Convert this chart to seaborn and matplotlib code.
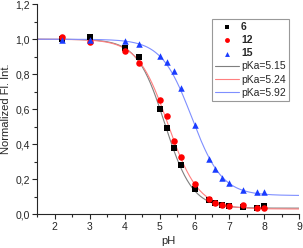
import matplotlib
matplotlib.use('Agg')
import matplotlib.pyplot as plt
from matplotlib.ticker import MultipleLocator, FuncFormatter
import seaborn as sns
import pandas as pd
import numpy as np

ph = [2.2, 3.0, 4.0, 4.4, 5.0, 5.2, 5.4, 5.6, 6.0, 6.4, 6.6, 6.8, 7.0, 7.4, 7.8, 8.0]
int_6 = [1.0, 1.015, 0.949, 0.90, 0.60, 0.49, 0.381, 0.282, 0.143, 0.082,
         0.066, 0.055, 0.046, 0.040, 0.036, 0.049]
int_12 = [1.01, 0.986, 0.935, 0.866, 0.653, 0.562, 0.419, 0.329, 0.171, 0.086,
          0.066, 0.051, 0.046, 0.051, 0.036, 0.034]
int_15 = [0.994, 0.994, 0.992, 0.973, 0.905, 0.869, 0.819, 0.72, 0.51, 0.314,
          0.259, 0.207, 0.181, 0.139, 0.129, 0.127]

compounds = ['6', '12', '15']
pka = [5.15, 5.24, 5.92]
hill = [1.1, 1.0, 1.0]
bottom = [0.035, 0.03, 0.107]

marker_colors = {'6': 'black', '12': '#ff0000', '15': '#1a3cff'}
markers = {'6': 's', '12': 'o', '15': '^'}
line_colors = ['#7f7f7f', '#ff7f7f', '#7f8fff']

sns.set_style('ticks')
plt.rcParams['font.family'] = ['Liberation Sans', 'DejaVu Sans']

df = pd.DataFrame({
    'pH': ph * 3,
    'I': int_6 + int_12 + int_15,
    'Compound': ['6'] * len(ph) + ['12'] * len(ph) + ['15'] * len(ph),
})

fig = plt.figure(figsize=(3.03, 2.48), dpi=100)
ax = fig.add_axes([0.123, 0.136, 0.865, 0.847])

for c in compounds:
    sub = df[df['Compound'] == c]
    sns.scatterplot(data=sub, x='pH', y='I', marker=markers[c], color=marker_colors[c],
                    s=22, linewidth=0, ax=ax, label=c, zorder=3)

# Henderson-Hasselbalch fits
x_fit = np.linspace(1.5, 9, 300)
for i, c in enumerate(compounds):
    y_fit = bottom[i] + (1 - bottom[i]) / (1 + 10 ** (hill[i] * (x_fit - pka[i])))
    sns.lineplot(x=x_fit, y=y_fit, color=line_colors[i], linewidth=0.8, ax=ax,
                 label=f'pKa={pka[i]:.2f}', zorder=2)

ax.set_xlim(1.5, 9)
ax.set_ylim(0, 1.2)
ax.xaxis.set_major_locator(MultipleLocator(1))
ax.xaxis.set_minor_locator(MultipleLocator(0.5))
ax.yaxis.set_major_locator(MultipleLocator(0.2))
ax.yaxis.set_minor_locator(MultipleLocator(0.1))
ax.yaxis.set_major_formatter(FuncFormatter(lambda v, p: f'{v:.1f}'.replace('.', ',')))
ax.tick_params(which='major', length=3.5, width=0.8, labelsize=7.5, pad=2)
ax.tick_params(which='minor', length=2, width=0.8)
ax.set_xlabel('pH', fontsize=8, labelpad=3)
ax.set_ylabel('Normalized Fl. Int.', fontsize=8, labelpad=3)
sns.despine(ax=ax)
for s in ['left', 'bottom']:
    ax.spines[s].set_linewidth(0.8)

leg = ax.legend(loc='upper right', bbox_to_anchor=(0.96, 0.93), fontsize=7.5,
                frameon=True, fancybox=False, edgecolor='#808080',
                handlelength=2.3, handletextpad=0.2, labelspacing=0.3,
                borderpad=0.3, borderaxespad=0, markerscale=0.75)
leg.get_frame().set_linewidth(0.8)
for t in leg.get_texts()[:3]:
    t.set_fontweight('bold')

fig.savefig('out.png', dpi=100, facecolor='white')
